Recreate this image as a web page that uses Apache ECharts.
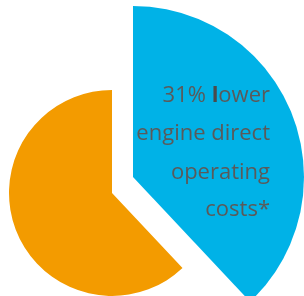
<!DOCTYPE html>
<html>
<head>
<meta charset="utf-8">
<script src="https://cdn.jsdelivr.net/npm/echarts@6/dist/echarts.min.js"></script>
<style>
  html, body { margin: 0; padding: 0; background: #fff; }
  #chart { width: 304px; height: 296px; }
</style>
</head>
<body>
<div id="chart"></div>
<script>
// slice shares
var names = ['lower', 'rest'];
var values = [38, 62];
var colors = ['#00b2e7', '#f39b00'];

// caption lines
var captionLines = ['31% lower', 'engine direct', 'operating', 'costs*'];

var chart = echarts.init(document.getElementById('chart'));

// one pie per slice, so each can have its own radius / offset
var blueData = [
  { name: names[0], value: values[0], itemStyle: { color: colors[0] } },
  { name: names[1], value: values[1], itemStyle: { color: 'rgba(0,0,0,0)' } }
];
var orangeData = [
  { name: names[0], value: values[0], itemStyle: { color: 'rgba(0,0,0,0)' } },
  { name: names[1], value: values[1], itemStyle: { color: colors[1] } }
];

var lineY = [96, 134, 173, 210];
var graphics = [];
for (var i = 0; i < captionLines.length; i++) {
  var st = {
    text: captionLines[i],
    fill: '#5a5a5a',
    fontSize: 22,
    fontFamily: 'Open Sans',
    align: 'right',
    verticalAlign: 'middle'
  };
  if (i === 0) {
    // the "l" of lower is drawn heavier
    st.text = '{a|31% }{b|l}{a|ower}';
    st.rich = {
      a: { fill: '#5a5a5a', fontSize: 22, fontFamily: 'Open Sans' },
      b: { fill: '#4b4b4b', fontSize: 22, fontFamily: 'Open Sans', fontWeight: 'bold' }
    };
  }
  graphics.push({ type: 'text', x: 270, y: lineY[i], z: 100, style: st, silent: true });
}

var option = {
  animation: false,
  series: [
    {
      type: 'pie',
      center: [133, 177],
      radius: [0, 171],
      startAngle: 90,
      silent: true,
      label: { show: false },
      labelLine: { show: false },
      data: blueData
    },
    {
      type: 'pie',
      center: [112, 193],
      radius: [0, 103],
      startAngle: 90,
      silent: true,
      label: { show: false },
      labelLine: { show: false },
      data: orangeData
    }
  ],
  graphic: { elements: graphics }
};
chart.setOption(option);
</script>
</body>
</html>
